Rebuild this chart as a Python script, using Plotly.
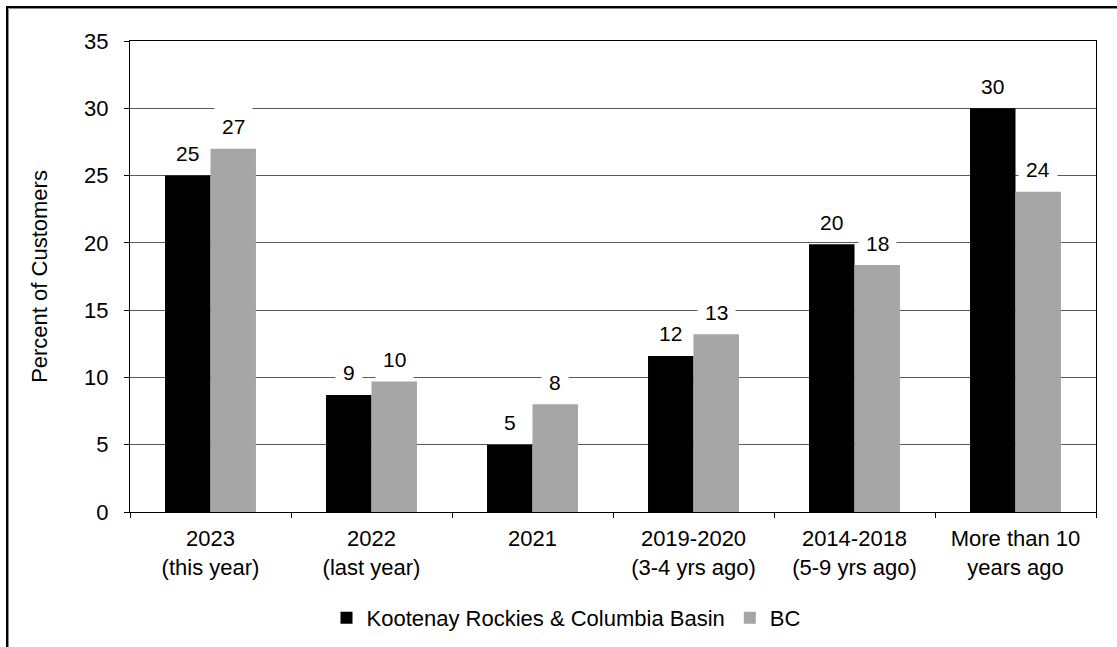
import plotly.graph_objects as go

categories = ["2023<br>(this year)", "2022<br>(last year)", "2021",
              "2019-2020<br>(3-4 yrs ago)", "2014-2018<br>(5-9 yrs ago)",
              "More than 10<br>years ago"]
kootenay = [25.0, 8.7, 5.0, 11.6, 19.9, 30.0]
bc = [27.0, 9.7, 8.0, 13.2, 18.35, 23.8]
series_names = ["Kootenay Rockies & Columbia Basin", "BC"]
y_ticks = [0, 5, 10, 15, 20, 25, 30, 35]

FONT = "Liberation Sans, Arial, sans-serif"
W, H = 1117, 647
ML, MR, MT, MB = 130, 21, 41, 135
PW, PH = W - ML - MR, H - MT - MB
FS = 22

fig = go.Figure()
fig.add_trace(go.Bar(x=categories, y=kootenay, name=series_names[0],
                     marker=dict(color="#000000", line=dict(width=0))))
fig.add_trace(go.Bar(x=categories, y=bc, name=series_names[1],
                     marker=dict(color="#A6A6A6", line=dict(width=0))))

annotations = []
offset = 22.75
for vals, sh in ((kootenay, -offset), (bc, offset)):
    for i, v in enumerate(vals):
        annotations.append(dict(
            x=i, y=v, xref="x", yref="y", text=f"{round(v)}",
            showarrow=False, xshift=sh, yshift=22, yanchor="middle",
            font=dict(family=FONT, size=21, color="#000000"),
            bgcolor="#FFFFFF", borderpad=7))

def px_x(p):
    return (p - ML) / PW

def px_y(p):
    return (MT + PH - p) / PH

shapes = [
    dict(type="rect", xref="paper", yref="paper",
         x0=px_x(7), y0=px_y(700), x1=px_x(1200), y1=px_y(7),
         line=dict(color="#000000", width=2), fillcolor="rgba(0,0,0,0)", layer="above"),
    dict(type="rect", xref="paper", yref="paper",
         x0=px_x(8.5), y0=px_y(700), x1=px_x(1200), y1=px_y(8.5),
         line=dict(color="#8C8C8C", width=1), fillcolor="rgba(0,0,0,0)", layer="above"),
]

fig.update_layout(
    width=W, height=H,
    margin=dict(l=ML, r=MR, t=MT, b=MB, autoexpand=False),
    paper_bgcolor="#FFFFFF", plot_bgcolor="#FFFFFF",
    barmode="group", bargap=0.435, bargroupgap=0,
    font=dict(family=FONT, size=FS, color="#000000"),
    showlegend=True,
    legend=dict(orientation="h", x=px_x(566), xanchor="center",
                y=px_y(618), yanchor="middle",
                font=dict(family=FONT, size=FS, color="#000000"),
                bgcolor="rgba(0,0,0,0)", itemwidth=30, tracegroupgap=0),
    annotations=annotations,
    shapes=shapes,
    xaxis=dict(type="category", range=[-0.5, len(categories) - 0.5],
               showline=True, linecolor="#000000", linewidth=1, mirror=True,
               ticks="outside", ticklen=5, tickcolor="#000000", tickwidth=1,
               tickson="boundaries", showgrid=False, tickangle=0,
               tickfont=dict(family=FONT, size=FS, color="#000000"),
               ticklabelstandoff=7),
    yaxis=dict(range=[0, 35], tickvals=y_ticks, showline=True, linecolor="#000000",
               linewidth=1, mirror=True, ticks="outside", ticklen=5,
               tickcolor="#000000", tickwidth=1, showgrid=True, gridcolor="#5A5A5A",
               gridwidth=1, zeroline=False,
               tickfont=dict(family=FONT, size=FS, color="#000000"),
               ticklabelstandoff=11,
               title=dict(text="Percent of Customers", standoff=30,
                          font=dict(family=FONT, size=FS, color="#000000"))),
)

fig.write_html("out.html")
